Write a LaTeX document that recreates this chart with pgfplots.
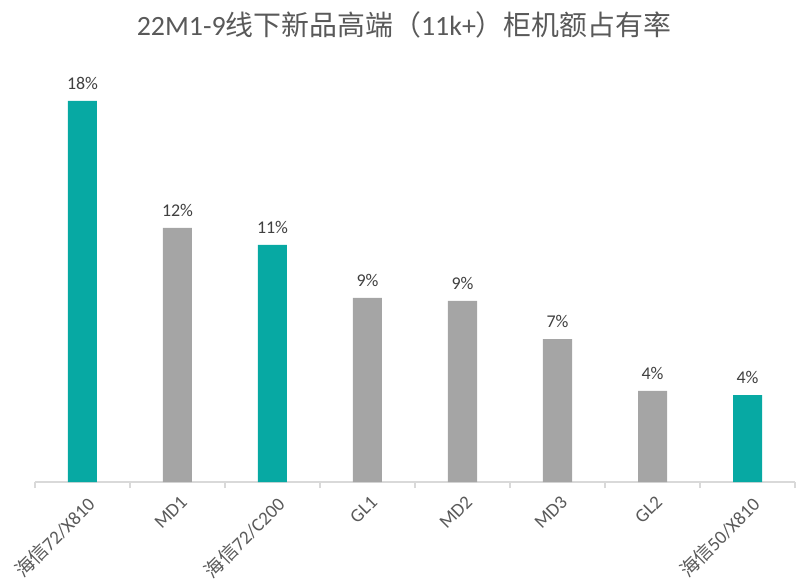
\documentclass[border=0pt]{standalone}
\usepackage{pgfplots}
\pgfplotsset{compat=1.18}
\usepackage{fontspec}
\setmainfont{Carlito}
\newfontfamily\cjk{Noto Sans CJK SC}
\definecolor{hxteal}{HTML}{07A9A3}
\definecolor{bargray}{HTML}{A5A5A5}
\definecolor{axisgray}{HTML}{D9D9D9}
\definecolor{labelgray}{HTML}{595959}
\definecolor{datagray}{HTML}{404040}

\begin{document}
\begin{tikzpicture}
\useasboundingbox (-35bp,-102bp) rectangle (767bp,482bp);
\begin{axis}[
    scale only axis,
    width=760bp, height=423.4bp,
    xmin=-0.5, xmax=7.5, ymin=0, ymax=20,
    ybar, bar width=29bp,
    axis x line*=bottom,
    axis y line=none,
    x axis line style={draw=axisgray, line width=1.5bp},
    xtick={0,...,7},
    xticklabels={{{\cjk 海信}72/X810},MD1,{{\cjk 海信}72/C200},GL1,MD2,MD3,GL2,{{\cjk 海信}50/X810}},
    major tick length=0pt,
    minor xtick={-0.5,0.5,...,7.5},
    minor tick length=6bp,
    tick align=outside,
    minor tick style={draw=axisgray, line width=1.5bp},
    x tick label style={rotate=45, anchor=north east, font=\fontsize{19}{22}\selectfont, text=labelgray, xshift=-4bp, yshift=-7bp},
    /pgf/number format/assume math mode=true,
    nodes near coords={\pgfmathprintnumber[fixed,precision=0,assume math mode=true]{\pgfplotspointmeta}\%},
    every node near coord/.append style={font=\fontsize{18}{21}\selectfont, text=datagray, yshift=8bp},
    clip=false,
]
\addplot[fill=hxteal, draw=none, bar shift=0pt] coordinates {(0,18.0) (2,11.2) (7,4.1)};
\addplot[fill=bargray, draw=none, bar shift=0pt] coordinates {(1,12.0) (3,8.7) (4,8.55) (5,6.75) (6,4.3)};
\end{axis}
\node[font=\fontsize{28}{32}\selectfont, text=labelgray] at (369bp,457bp)
    {22M1-9{\cjk 线下新品高端（}11k+{\cjk ）柜机额占有率}};
\end{tikzpicture}
\end{document}
